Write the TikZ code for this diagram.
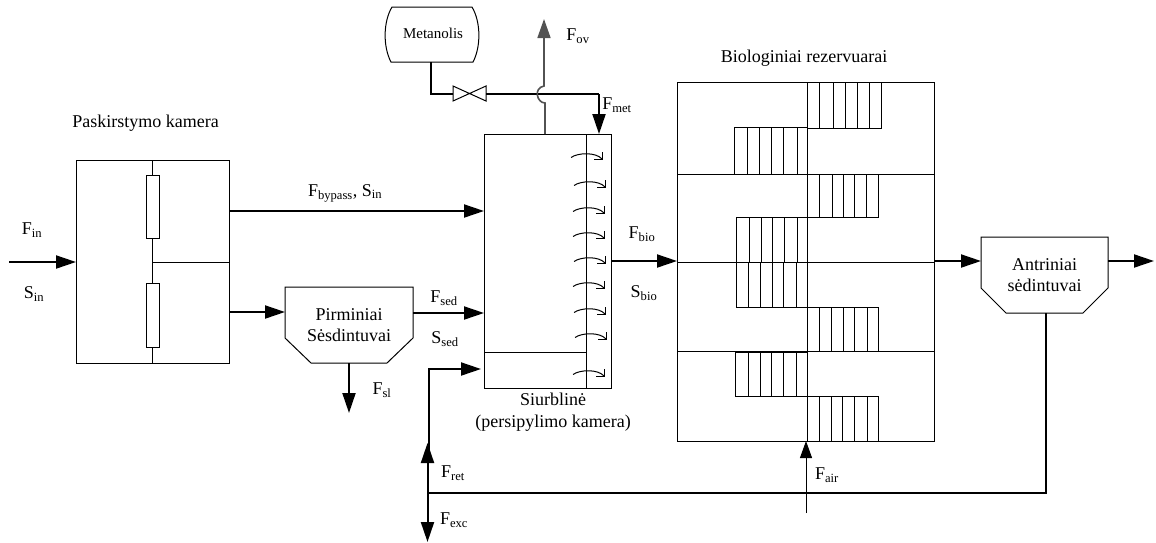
\documentclass[tikz,border=0pt]{standalone}
\usepackage{fontspec}
\setmainfont{Liberation Serif}
\usetikzlibrary{arrows.meta}
\tikzset{
	lab/.style={inner sep=0pt, outer sep=0pt, align=center, font=\fontsize{18}{21.5}\selectfont},
	labs/.style={inner sep=0pt, outer sep=0pt, font=\fontsize{15}{18}\selectfont},
	unit/.style={draw, line width=1pt, inner sep=0pt, outer sep=0pt},
	pipe/.style={line width=2pt},
	flow/.style={pipe, -{Triangle[length=20pt,width=13pt]}},
	flowthin/.style={line width=1pt, -{Triangle[length=17pt,width=12pt]}},
	wall/.style={line width=1pt},
	grayflow/.style={line width=1.6pt, color=black!68, -{Triangle[length=19pt,width=13pt]}}
}
\begin{document}
\begin{tikzpicture}[x=1pt, y=-1pt]
	\useasboundingbox (0,0) rectangle (1156,542);

	% Paskirstymo kamera
	\node[lab] (camLabel) at (145.5,123) {Paskirstymo kamera};
	\node[unit, minimum width=153pt, minimum height=203pt] (cam) at (152.5,261.5) {};
	\node[unit, minimum width=13pt, minimum height=63pt] (resUp) at (152.5,206.5) {};
	\node[unit, minimum width=13pt, minimum height=64pt] (resLow) at (152.5,315) {};
	\coordinate (camMid) at (152.5,262);
	\draw[wall] (cam.north) -- (resUp.north);
	\draw[wall] (resUp.south) -- (resLow.north);
	\draw[wall] (resLow.south) -- (cam.south);
	\draw[wall] (camMid) -- (cam.east |- camMid);
	\coordinate (inStart) at (9,262);
	\draw[flow] (inStart) -- (cam.west |- inStart);
	\node[lab] (Fin) at (32,230) {F\textsubscript{in}};
	\node[lab] (Sin) at (34,294) {S\textsubscript{in}};

	% Pirminiai
	\begin{scope}[shift={(285,287)}]
		\draw[wall] (0,0) -- (128,0) -- (128,51) -- (102,76) -- (26,76) -- (0,51) -- cycle;
		\coordinate (pirmIn) at (0,25);
		\coordinate (pirmOut) at (128,26);
		\coordinate (pirmLow) at (64,76);
		\node[lab] (pirm) at (64,38) {Pirminiai\\Sėsdintuvai};
	\end{scope}
	\coordinate (slEnd) at (349,413);
	\draw[flow] (cam.east |- pirmIn) -- (pirmIn);
	\draw[flow] (pirmLow) -- (slEnd);
	\node[lab] (Fsl) at (382,390) {F\textsubscript{sl}};

	% Siurbline
	\node[unit, minimum width=127pt, minimum height=254pt] (pump) at (547.5,261) {};
	\coordinate (pumpWall) at (586,352);
	\draw[wall] (586,134) -- (586,388);
	\draw[wall] (pump.west |- pumpWall) -- (pumpWall);
	\foreach \sx/\sy in {571/153,574/181,573/207,573/232,574/257,573/282,574/308,575/333,573/370}{
		\draw[wall] (\sx,\sy+4.5) .. controls (\sx+7,\sy-0.5) and (\sx+25,\sy-1) .. (\sx+31,\sy+6);
		\draw[wall] (\sx+23,\sy+6) -- (\sx+31,\sy+6) -- (\sx+31,\sy-1);
	}
	\node[lab] (pumpLabel) at (553,412) {Siurblinė\\(persipylimo kamera)};
	\coordinate (bypass) at (229,211);
	\draw[flow] (bypass) -- (pump.west |- bypass);
	\node[lab, anchor=west] (Fbypass) at (308,193) {F\textsubscript{bypass}, S\textsubscript{in}};
	\draw[flow] (pirmOut) -- (pump.west |- pirmOut);
	\node[lab] (Fsed) at (444,298) {F\textsubscript{sed}};
	\node[lab] (Ssed) at (445,339) {S\textsubscript{sed}};

	% Metanolis
	\draw[wall] (392,7) -- (472,7) .. controls (481,22) and (481,47) .. (473,62) -- (391,62) .. controls (383,47) and (383,22) .. (392,7) -- cycle;
	\node[labs] (met) at (433,33) {Metanolis};
	\coordinate (metOut) at (431,62);
	\coordinate (valveIn) at (453,94);
	\coordinate (valveOut) at (486,94);
	\coordinate (metDrop) at (599,94);
	\draw[pipe] (metOut) |- (valveIn);
	\draw[wall] (valveIn) ++(0,-8) -- ++(33,15) -- ++(0,-15) -- ++(-33,15) -- cycle;
	\draw[pipe] (valveOut) -- (metDrop);
	\draw[flow] (metDrop) -- (pump.north -| metDrop);
	\node[lab] (Fmet) at (617,105) {F\textsubscript{met}};
	\coordinate (ovEnd) at (544,19);
	\draw[grayflow] (545,134) -- (545,103) .. controls (537,103) and (533,88) .. (544,86) -- (ovEnd);
	\node[lab] (Fov) at (578,36) {F\textsubscript{ov}};

	% Biologiniai rezervuarai
	\node[lab] (bioLabel) at (804,58) {Biologiniai rezervuarai};
	\node[unit, minimum width=257pt, minimum height=359pt] (bio) at (805.5,261.5) {};
	\foreach \ly in {174,262,351}{
		\draw[wall] (bio.west |- 0,\ly) -- (bio.east |- 0,\ly);
	}
	\draw[wall] (807,82) -- (807,441);
	\foreach \xa/\xb/\ya/\yb/\vl in {
		807/881/82/128/{819,833,845,857,869},
		734/807/127/174/{747,759,771,783,797},
		807/878/174/217/{819,832,843,854,866},
		736/807/217/262/{749,761,772,784,797},
		736/807/262/307/{748,760,772,783,796},
		807/878/307/351/{819,831,843,854,867},
		735/807/352/396/{748,760,771,783,796},
		807/878/396/441/{819,831,842,854,867}}{
		\draw[wall] (\xa,\ya) rectangle (\xb,\yb);
		\foreach \vx in \vl{
			\draw[wall] (\vx,\ya) -- (\vx,\yb);
		}
	}
	\coordinate (bioIn) at (611,261);
	\draw[flow] (bioIn) -- (bio.west |- bioIn);
	\node[lab] (Fbio) at (642,234) {F\textsubscript{bio}};
	\node[lab] (Sbio) at (644,293) {S\textsubscript{bio}};
	\coordinate (airStart) at (806,513);
	\draw[flowthin] (airStart) -- (bio.south -| airStart);
	\node[lab] (Fair) at (827,475) {F\textsubscript{air}};

	% Antriniai
	\begin{scope}[shift={(981,237)}]
		\draw[wall] (0,0) -- (127,0) -- (127,51) -- (102,76) -- (25,76) -- (0,51) -- cycle;
		\coordinate (antrIn) at (0,24);
		\coordinate (antrOut) at (127,24);
		\coordinate (antrLow) at (65,76);
		\node[lab] (antr) at (63.5,38) {Antriniai\\sėdintuvai};
	\end{scope}
	\coordinate (outEnd) at (1154,261);
	\draw[flow] (bio.east |- antrIn) -- (antrIn);
	\draw[flow] (antrOut) -- (outEnd);

	% Grazinimas
	\coordinate (retCorner) at (1046,493);
	\coordinate (retSplit) at (427.5,493);
	\coordinate (retTip) at (427.5,443);
	\coordinate (excEnd) at (427.5,542);
	\coordinate (pumpRet) at (481,369);
	\draw[pipe] (antrLow) -- (retCorner) -- (retSplit);
	\draw[flow] (retSplit) -- (retTip);
	\draw[flow] (428.5,450) |- (pumpRet);
	\draw[flow] (retSplit) -- (excEnd);
	\node[lab] (Fret) at (453,473) {F\textsubscript{ret}};
	\node[lab] (Fexc) at (454,520) {F\textsubscript{exc}};
\end{tikzpicture}
\end{document}
